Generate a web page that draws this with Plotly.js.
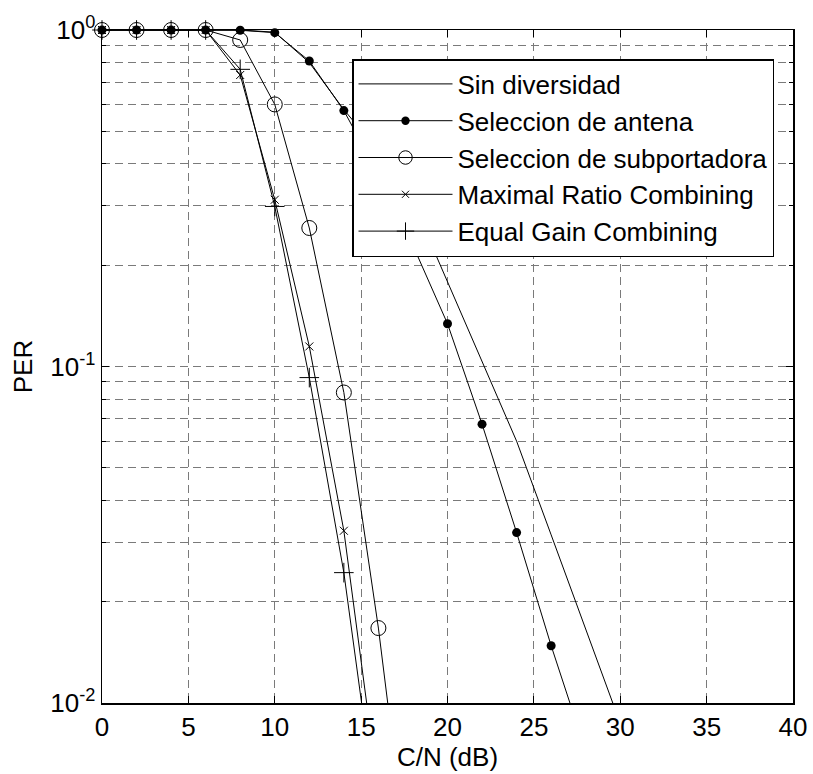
<!DOCTYPE html>
<html>
<head>
<meta charset="utf-8">
<script src="https://cdn.plot.ly/plotly-3.0.1.min.js"></script>
<style>
  html, body { margin: 0; padding: 0; background: #ffffff; }
  #chart { width: 813px; height: 774px; }
</style>
</head>
<body>
<div id="chart"></div>
<script>
// ---- Data ----
const xSinDiversidad = [0, 2, 4, 6, 8, 10, 12, 14, 16, 18, 20, 22, 24, 26, 28, 30];
const perSinDiversidad = [1, 1, 1, 1, 1, 0.985, 0.80, 0.58, 0.437, 0.308, 0.179, 0.104, 0.060, 0.0316, 0.0166, 0.0087];

const xAntena = [0, 2, 4, 6, 8, 10, 12, 14, 16, 18, 20, 22, 24, 26, 28];
const perAntena = [1, 1, 1, 1, 0.998, 0.982, 0.809, 0.576, 0.372, 0.229, 0.134, 0.0674, 0.0321, 0.0148, 0.0072];

const xSubportadora = [0, 2, 4, 6, 8, 10, 12, 14, 16, 18];
const perSubportadora = [1, 1, 1, 1, 0.934, 0.601, 0.258, 0.0837, 0.0167, 0.0025];

const xMRC = [0, 2, 4, 6, 8, 10, 12, 14, 16];
const perMRC = [1, 1, 1, 1, 0.735, 0.313, 0.1147, 0.0325, 0.00545];

const xEGC = [0, 2, 4, 6, 8, 10, 12, 14, 16];
const perEGC = [1, 1, 1, 1, 0.764, 0.299, 0.0927, 0.0244, 0.0043];

const seriesNames = ['Sin diversidad', 'Seleccion de antena', 'Seleccion de subportadora',
                     'Maximal Ratio Combining', 'Equal Gain Combining'];

const yTickVals = [0.01, 0.1, 1];
const yTickText = ['10<sup>-2</sup>', '10<sup>-1</sup>', '10<sup>0</sup>'];
const yMinorVals = [0.02, 0.03, 0.04, 0.05, 0.06, 0.07, 0.08, 0.09,
                    0.2, 0.3, 0.4, 0.5, 0.6, 0.7, 0.8, 0.9];

// ---- Styling ----
const FONT = 'Liberation Sans, Arial, sans-serif';
const FS = 26;
const Y_MIN = 0.01;
const lineStyle = { color: '#000000', width: 1 };
// markers are not clipped at the frame (as in the original), so points below the
// visible range get no marker
const sizes = (vals, s) => vals.map(v => (v >= Y_MIN ? s : 0));

const traces = [
  { x: xSinDiversidad, y: perSinDiversidad, name: seriesNames[0], mode: 'lines',
    line: lineStyle, legendgroup: 'a' },
  { x: xAntena, y: perAntena, name: seriesNames[1], mode: 'lines+markers',
    line: lineStyle,
    marker: { symbol: 'circle', size: sizes(perAntena, 9), color: '#000000', opacity: 1,
              line: { width: 0, color: '#000000' } }, legendgroup: 'b' },
  { x: xSubportadora, y: perSubportadora, name: seriesNames[2], mode: 'lines+markers',
    line: lineStyle,
    marker: { symbol: 'circle-open', size: sizes(perSubportadora, 15), color: '#000000', opacity: 1,
              line: { width: 1, color: '#000000' } }, legendgroup: 'c' },
  { x: xMRC, y: perMRC, name: seriesNames[3], mode: 'lines+markers',
    line: lineStyle,
    marker: { symbol: 'x-thin-open', size: sizes(perMRC, 8), color: '#000000', opacity: 1,
              line: { width: 1, color: '#000000' } }, legendgroup: 'd' },
  { x: xEGC, y: perEGC, name: seriesNames[4], mode: 'lines+markers',
    line: lineStyle,
    marker: { symbol: 'cross-thin-open', size: sizes(perEGC, 14), color: '#000000', opacity: 1,
              line: { width: 1, color: '#000000' } }, legendgroup: 'e' }
];
traces.forEach(t => { t.type = 'scatter'; t.cliponaxis = false; });

const gridColor = '#7a7a7a';
const gridDash = '8px,5px';

const layout = {
  width: 813,
  height: 774,
  margin: { l: 102, r: 20, t: 30, b: 71 },
  paper_bgcolor: '#ffffff',
  plot_bgcolor: '#ffffff',
  font: { family: FONT, size: FS, color: '#000000' },
  showlegend: true,
  legend: {
    x: (352 - 102) / 691, y: (703 - 59) / 673, xanchor: 'left', yanchor: 'top',
    bgcolor: '#ffffff', bordercolor: '#000000', borderwidth: 1.5,
    font: { family: FONT, size: FS, color: '#000000' },
    itemwidth: 94, tracegroupgap: 6, traceorder: 'normal', itemsizing: 'trace'
  },
  xaxis: {
    range: [0, 40], dtick: 5, tick0: 0,
    showline: true, linecolor: '#000000', linewidth: 1.5, mirror: 'ticks',
    ticks: 'inside', ticklen: 7, tickcolor: '#000000',
    showgrid: true, gridcolor: gridColor, gridwidth: 1, griddash: gridDash,
    zeroline: false, automargin: false,
    tickfont: { family: FONT, size: FS },
    title: { text: 'C/N (dB)', font: { family: FONT, size: FS }, standoff: 4 }
  },
  yaxis: {
    type: 'log', range: [-2, 0],
    tickmode: 'array', tickvals: yTickVals, ticktext: yTickText,
    showline: true, linecolor: '#000000', linewidth: 1.5, mirror: 'ticks',
    ticks: 'inside', ticklen: 7, tickcolor: '#000000',
    showgrid: true, gridcolor: gridColor, gridwidth: 1, griddash: gridDash,
    zeroline: false, automargin: false,
    tickfont: { family: FONT, size: FS },
    minor: { tickmode: 'array', tickvals: yMinorVals, ticks: 'inside', ticklen: 4, tickcolor: '#000000',
             showgrid: true, gridcolor: gridColor, gridwidth: 1, griddash: gridDash },
    title: { text: 'PER', font: { family: FONT, size: FS }, standoff: 10 }
  }
};

Plotly.newPlot('chart', traces, layout, { staticPlot: true, displayModeBar: false });
</script>
</body>
</html>
